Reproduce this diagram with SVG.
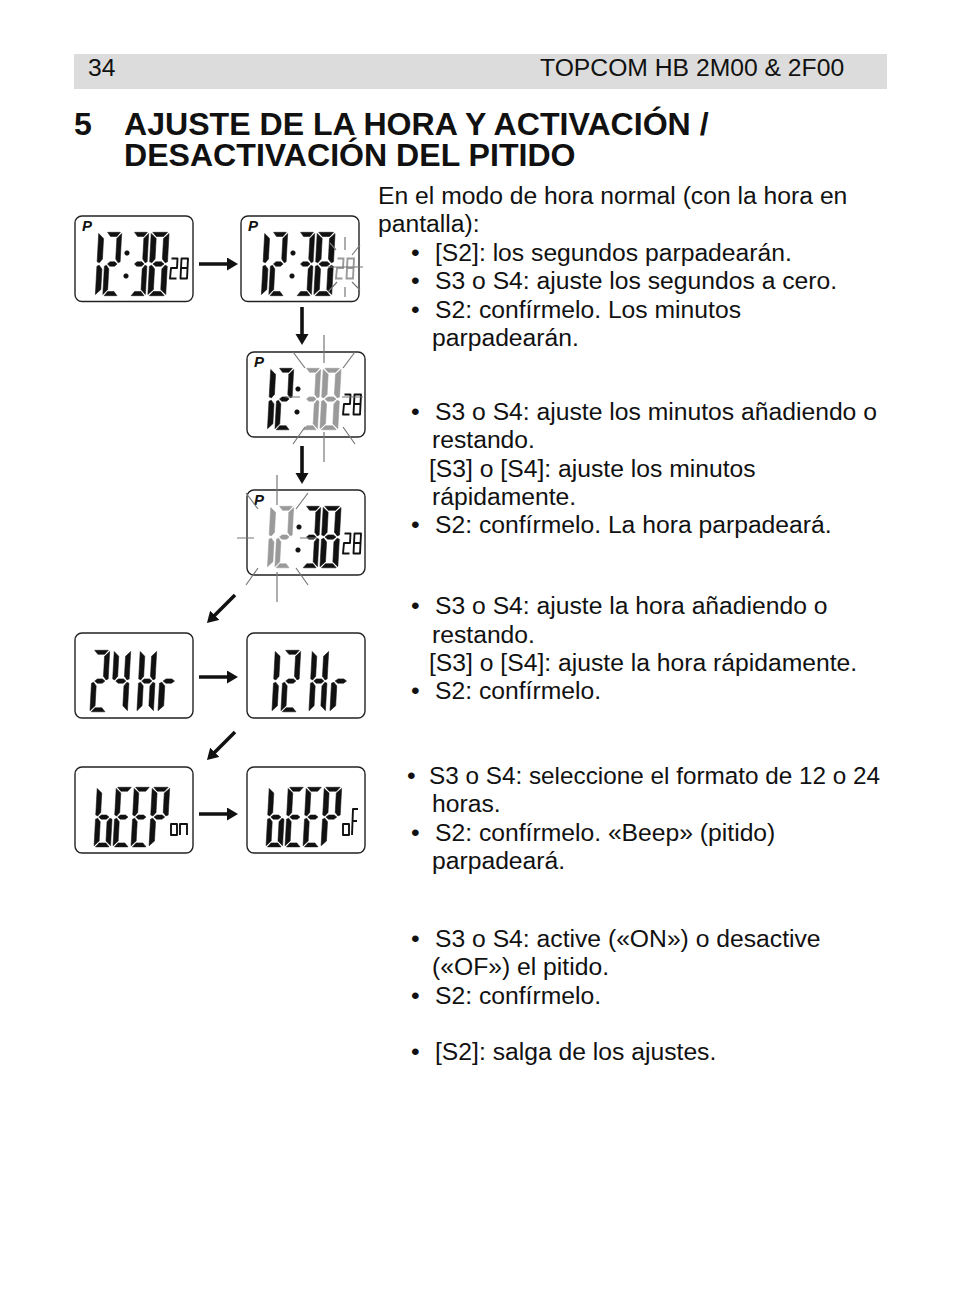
<svg xmlns="http://www.w3.org/2000/svg" width="954" height="1306" viewBox="0 0 954 1306">
<style>
text{font-family:"Liberation Sans",Arial,sans-serif;fill:#111}
.b{font-size:24.7px}
.h{font-size:24.7px}
.t{font-size:32.1px;font-weight:bold}
.p{font-size:15px;font-weight:bold;font-style:italic}
.panel{fill:#fff;stroke:#222;stroke-width:1.4}
.ink{fill:#111;stroke:#111;stroke-width:.6}
.gr{fill:#9a9a9a;stroke:#9a9a9a;stroke-width:.6}
.sm{fill:none;stroke:#111;stroke-width:1.9;stroke-linejoin:round}
.smg{fill:none;stroke:#9a9a9a;stroke-width:1.9}
.tick{stroke:#777;stroke-width:1.2;fill:none}
.ar{stroke:#111;stroke-width:3.6;fill:none;marker-end:url(#ah)}
</style>
<defs>
<marker id="ah" markerUnits="userSpaceOnUse" markerWidth="14" markerHeight="14" refX="6" refY="6.5" orient="auto"><path d="M0,0L11,6.5L0,13z" fill="#111"/></marker>
<polygon id="sa" points="2,0.3 18,0.3 14,4.500 6,4.500"/>
<polygon id="sf" points="0.3,1.500 6,6.500 6,27 2.800,30.800 0.3,29.800"/>
<polygon id="sb" points="19.700,1.500 14,6.500 14,27 17.200,30.800 19.700,29.800"/>
<polygon id="sg" points="4,32 7,29.800 13,29.800 16,32 13,34.200 7,34.200"/>
<polygon id="se" points="0.3,34.200 2.800,33.200 6,37 6,57.500 0.3,62.500"/>
<polygon id="sc" points="19.700,34.200 17.200,33.200 14,37 14,57.500 19.700,62.500"/>
<polygon id="sd" points="2,63.700 18,63.700 14,59.500 6,59.500"/>
<g id="d1"><use href="#sf"/><use href="#se"/></g>
<g id="d2"><use href="#sa"/><use href="#sb"/><use href="#sg"/><use href="#se"/><use href="#sd"/></g>
<g id="d3"><use href="#sa"/><use href="#sb"/><use href="#sg"/><use href="#sc"/><use href="#sd"/></g>
<g id="d4"><use href="#sf"/><use href="#sb"/><use href="#sg"/><use href="#sc"/></g>
<g id="d8"><use href="#sa"/><use href="#sf"/><use href="#sb"/><use href="#sg"/><use href="#se"/><use href="#sc"/><use href="#sd"/></g>
<g id="dH"><use href="#sf"/><use href="#sb"/><use href="#sg"/><use href="#se"/><use href="#sc"/></g>
<g id="dr"><use href="#sg"/><use href="#se"/></g>
<g id="db"><use href="#sf"/><use href="#sg"/><use href="#se"/><use href="#sc"/><use href="#sd"/></g>
<g id="dE"><use href="#sa"/><use href="#sf"/><use href="#sg"/><use href="#se"/><use href="#sd"/></g>
<g id="dP"><use href="#sa"/><use href="#sf"/><use href="#sb"/><use href="#sg"/><use href="#se"/></g>
<path id="s28" d="M1.500,1.500H7.500L7,11H1L0,21.500H6.500M11.500,1.500H18L17,21.500H10.500ZM11,11H17.500"/>
</defs>
<rect x="74" y="54" width="813" height="35" fill="#dcdcdc"/>
<text class="h" x="88" y="76">34</text>
<text class="h" x="540" y="76">TOPCOM HB 2M00 &amp; 2F00</text>
<text class="t" x="74" y="135">5</text>
<text class="t" x="124" y="135">AJUSTE DE LA HORA Y ACTIVACIÓN /</text>
<text class="t" x="124" y="166">DESACTIVACIÓN DEL PITIDO</text>

<g id="body">
<text class="b" x="378" y="204">En el modo de hora normal (con la hora en</text>
<text class="b" x="378" y="232">pantalla):</text>
<text class="b" x="411" y="261">•</text><text class="b" x="435" y="261">[S2]: los segundos parpadearán.</text>
<text class="b" x="411" y="289">•</text><text class="b" x="435" y="289">S3 o S4: ajuste los segundos a cero.</text>
<text class="b" x="411" y="318">•</text><text class="b" x="435" y="318">S2: confírmelo. Los minutos</text>
<text class="b" x="432" y="346">parpadearán.</text>
<text class="b" x="411" y="420">•</text><text class="b" x="435" y="420">S3 o S4: ajuste los minutos añadiendo o</text>
<text class="b" x="432" y="448">restando.</text>
<text class="b" x="429" y="477">[S3] o [S4]: ajuste los minutos</text>
<text class="b" x="432" y="505">rápidamente.</text>
<text class="b" x="411" y="533">•</text><text class="b" x="435" y="533">S2: confírmelo. La hora parpadeará.</text>
<text class="b" x="411" y="614">•</text><text class="b" x="435" y="614">S3 o S4: ajuste la hora añadiendo o</text>
<text class="b" x="432" y="643">restando.</text>
<text class="b" x="429" y="671">[S3] o [S4]: ajuste la hora rápidamente.</text>
<text class="b" x="411" y="699">•</text><text class="b" x="435" y="699">S2: confírmelo.</text>
<text class="b" x="407" y="784">•</text><text class="b" x="429" y="784" style="font-size:24.3px">S3 o S4: seleccione el formato de 12 o 24</text>
<text class="b" x="432" y="812">horas.</text>
<text class="b" x="411" y="841">•</text><text class="b" x="435" y="841">S2: confírmelo. «Beep» (pitido)</text>
<text class="b" x="432" y="869">parpadeará.</text>
<text class="b" x="411" y="947">•</text><text class="b" x="435" y="947">S3 o S4: active («ON») o desactive</text>
<text class="b" x="432" y="975">(«OF») el pitido.</text>
<text class="b" x="411" y="1004">•</text><text class="b" x="435" y="1004">S2: confírmelo.</text>
<text class="b" x="411" y="1060">•</text><text class="b" x="435" y="1060">[S2]: salga de los ajustes.</text>
</g>

<g id="connectors">
<path class="ar" d="M199,264H233"/>
<path class="ar" d="M302,307V340"/>
<path class="ar" d="M302,446V479"/>
<path class="ar" d="M235,595L210.500,619.500"/>
<path class="ar" d="M199,677H233"/>
<path class="ar" d="M235,732L210.500,756.500"/>
<path class="ar" d="M199,814H233"/>
</g>

<g id="panel1">
<rect class="panel" x="75" y="216" width="118" height="85.500" rx="7"/>
<text class="p" x="82" y="231">P</text>
<g class="ink">
<use href="#d1" transform="translate(98.500,232) skewX(-3.1) scale(.9,1)"/>
<use href="#d2" transform="translate(106,232) skewX(-3.1) scale(.8,1)"/>
<circle cx="127" cy="253" r="2.300"/><circle cx="126" cy="276" r="2.300"/>
<use href="#d3" transform="translate(133,232) skewX(-3.1) scale(.8,1)"/>
<use href="#d8" transform="translate(151,232) skewX(-3.1) scale(.92,1)"/>
</g>
<use href="#s28" class="sm" transform="translate(170,257)"/>
</g>

<g id="panel2">
<rect class="panel" x="241" y="216" width="118" height="85.500" rx="7"/>
<text class="p" x="248" y="231">P</text>
<g class="ink">
<use href="#d1" transform="translate(264.500,232) skewX(-3.1) scale(.9,1)"/>
<use href="#d2" transform="translate(272,232) skewX(-3.1) scale(.8,1)"/>
<circle cx="293" cy="253" r="2.300"/><circle cx="292" cy="276" r="2.300"/>
<use href="#d3" transform="translate(299,232) skewX(-3.1) scale(.8,1)"/>
<use href="#d8" transform="translate(317,232) skewX(-3.1) scale(.92,1)"/>
</g>
<use href="#s28" class="smg" transform="translate(336,257)"/>
<path class="tick" d="M345,237V250M345,287V297M328,267H363M330,243L336,250M360,245L352,255M337,282L328,292M352,282L360,290"/>
</g>

<g id="panel3">
<rect class="panel" x="247" y="352" width="118" height="85" rx="7"/>
<text class="p" x="254" y="367">P</text>
<g class="ink">
<use href="#d1" transform="translate(270.500,368) skewX(-3.1) scale(.9,.97)"/>
<use href="#d2" transform="translate(278,368) skewX(-3.1) scale(.8,.97)"/>
<circle cx="298" cy="389" r="2.300"/><circle cx="297" cy="412" r="2.300"/>
</g>
<g class="gr">
<use href="#d3" transform="translate(305,368) skewX(-3.1) scale(.8,.97)"/>
<use href="#d8" transform="translate(323,368) skewX(-3.1) scale(.92,.97)"/>
</g>
<use href="#s28" class="sm" transform="translate(343,393)"/>
<path class="tick" d="M324,335V363M324,432V462M293,352L305,368M355,352L343,368M305,427L293,444M343,427L355,444M285,397H300M342,397H363"/>
</g>

<g id="panel4">
<rect class="panel" x="247" y="490" width="118" height="85" rx="7"/>
<text class="p" x="254" y="505">P</text>
<g class="gr">
<use href="#d1" transform="translate(270.500,506) skewX(-3.1) scale(.9,.97)"/>
<use href="#d2" transform="translate(278,506) skewX(-3.1) scale(.8,.97)"/>
</g>
<g class="ink">
<circle cx="299" cy="527" r="2.300"/><circle cx="298" cy="550" r="2.300"/>
<use href="#d3" transform="translate(305,506) skewX(-3.1) scale(.8,.97)"/>
<use href="#d8" transform="translate(323,506) skewX(-3.1) scale(.92,.97)"/>
</g>
<use href="#s28" class="sm" transform="translate(343,532)"/>
<path class="tick" d="M277,475V505M277,572V602M237,538H254M300,538H317M246,493L258,509M308,493L296,509M258,568L246,585M296,568L308,585"/>
</g>

<g id="panel5">
<rect class="panel" x="75" y="633" width="118" height="85" rx="7"/>
<g class="ink">
<use href="#d2" transform="translate(93,650) skewX(-3.1) scale(.85,.97)"/>
<use href="#d4" transform="translate(114,650) skewX(-3.1) scale(.85,.97)"/>
<use href="#dH" transform="translate(140,650) skewX(-3.1) scale(.85,.97)"/>
<use href="#dr" transform="translate(161,650) skewX(-3.1) scale(.95,.97)"/>
</g>
</g>

<g id="panel6">
<rect class="panel" x="247" y="633" width="118" height="85" rx="7"/>
<g class="ink">
<use href="#d1" transform="translate(275,650) skewX(-3.1) scale(.9,.97)"/>
<use href="#d2" transform="translate(284,650) skewX(-3.1) scale(.85,.97)"/>
<use href="#dH" transform="translate(312,650) skewX(-3.1) scale(.85,.97)"/>
<use href="#dr" transform="translate(333,650) skewX(-3.1) scale(.95,.97)"/>
</g>
</g>

<g id="panel7">
<rect class="panel" x="75" y="767" width="118" height="86" rx="7"/>
<g class="ink">
<use href="#db" transform="translate(97,787) skewX(-3.1) scale(.85,.94)"/>
<use href="#dE" transform="translate(116,787) skewX(-3.1) scale(.85,.94)"/>
<use href="#dE" transform="translate(134,787) skewX(-3.1) scale(.85,.94)"/>
<use href="#dP" transform="translate(152,787) skewX(-3.1) scale(.9,.94)"/>
</g>
<path class="sm" d="M171,824H177V835H171ZM180,835V824H187V835"/>
</g>

<g id="panel8">
<rect class="panel" x="247" y="767" width="118" height="86" rx="7"/>
<g class="ink">
<use href="#db" transform="translate(269,787) skewX(-3.1) scale(.85,.94)"/>
<use href="#dE" transform="translate(288,787) skewX(-3.1) scale(.85,.94)"/>
<use href="#dE" transform="translate(306,787) skewX(-3.1) scale(.85,.94)"/>
<use href="#dP" transform="translate(324,787) skewX(-3.1) scale(.9,.94)"/>
</g>
<path class="sm" d="M343,824H349V835H343ZM352,835L353,809H358M352,821H357"/>
</g>
</svg>
